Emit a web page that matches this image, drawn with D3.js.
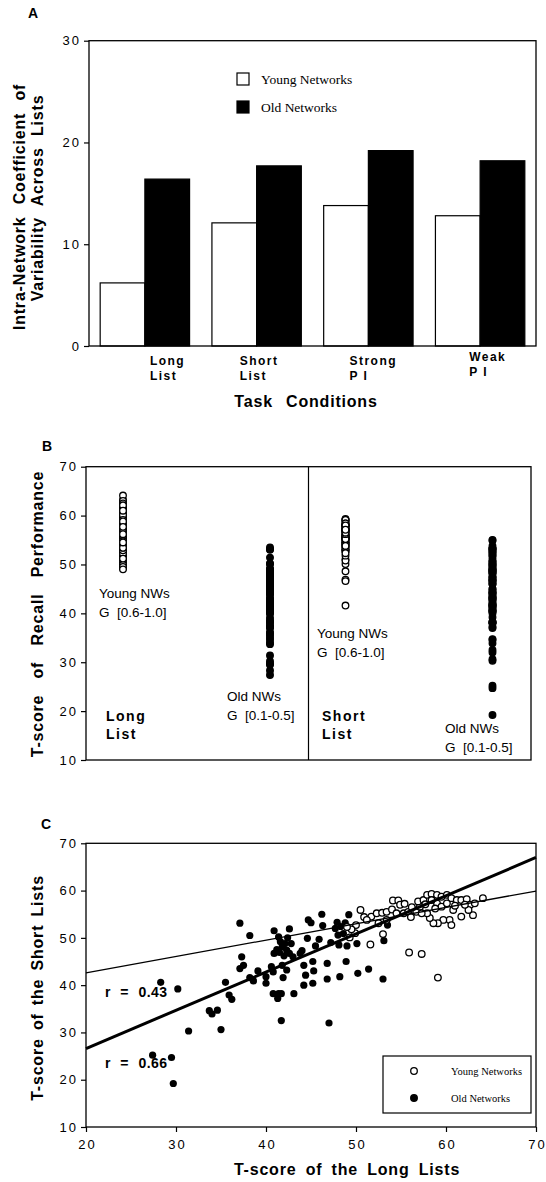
<!DOCTYPE html>
<html>
<head>
<meta charset="utf-8">
<script src="https://cdn.jsdelivr.net/npm/d3@7"></script>
<style>
body { margin: 0; background: #fff; }
svg { display: block; }
.tick text { font-family: "Liberation Sans", Arial, sans-serif; font-size: 13px; letter-spacing: 2px; fill: #000; }
.tick line, .domain { stroke: #000; stroke-width: 1.2; }
.title { font-family: "Liberation Sans", Arial, sans-serif; font-weight: bold; font-size: 16px; letter-spacing: 0.8px; }
.note { font-family: "Liberation Sans", Arial, sans-serif; font-size: 13.5px; }
.bold { font-family: "Liberation Sans", Arial, sans-serif; font-weight: bold; font-size: 14px; letter-spacing: 1.5px; }
.serif { font-family: "Liberation Serif", "Times New Roman", serif; }
</style>
</head>
<body>
<div id="chart"></div>
<script>

/* ==========================
   Data
========================== */

// panel A
const conditions = ["Long List", "Short List", "Strong PI", "Weak PI"];
const conditionLines = [["Long", "List"], ["Short", "List"], ["Strong", "P I"], ["Weak", "P I"]];
const youngCV = [6.2, 12.1, 13.8, 12.8];
const oldCV = [16.4, 17.7, 19.2, 18.2];
const cvTicks = [0, 10, 20, 30];

// panel B + C : [long list T-score, short list T-score]
const youngScores = [
[50.5,55.9],[50.9,54.4],[50.0,52.7],[49.9,51.0],[49.3,50.1],[51.6,48.6],[53.0,50.8],[52.5,53.1],
[51.7,54.5],[52.3,55.2],[52.9,55.3],[53.4,55.5],[54.0,56.0],[54.1,57.9],[54.7,57.9],[54.9,57.0],
[55.4,57.2],[55.3,55.2],[55.8,55.5],[56.1,54.4],[56.4,55.9],[56.7,55.5],[57.1,56.6],[56.9,57.7],
[57.5,58.0],[57.9,59.1],[58.4,59.3],[59.0,59.1],[59.5,58.7],[60.1,59.1],[60.6,58.4],[61.2,58.0],
[61.7,58.0],[62.3,58.2],[62.7,57.0],[63.2,57.3],[64.1,58.4],[63.0,54.8],[61.7,54.5],[60.8,55.9],
[60.4,53.8],[60.6,52.7],[59.7,53.8],[59.1,53.1],[58.6,53.1],[58.2,54.2],[57.9,55.2],[57.3,55.2],
[59.0,57.3],[59.5,56.6],[60.1,57.3],[58.4,58.0],[62.5,55.9],[62.1,57.0],[55.9,46.9],[57.3,46.6],
[59.1,41.6],[51.2,53.8],[53.4,53.8],[54.5,55.2],[49.5,51.8],[49.0,52.3],[58.8,56.2],[61.0,56.8],
[56.2,56.5],[57.7,57.1]
];

const oldScores = [
[28.3,40.6],[30.2,39.2],[27.4,25.2],[29.5,24.7],[29.7,19.2],[31.4,30.3],[35.0,30.6],[33.7,34.6],
[34.0,33.9],[34.6,34.7],[35.5,40.6],[35.9,37.9],[36.2,37.0],[37.1,53.1],[37.3,46.0],[37.5,44.2],
[37.1,43.5],[38.2,50.5],[38.2,41.6],[38.6,40.9],[39.1,43.0],[40.0,41.8],[40.0,40.4],[40.9,51.5],
[40.6,43.9],[40.8,42.8],[40.8,38.2],[41.4,50.2],[41.4,38.2],[41.3,37.2],[41.7,38.2],[41.7,32.5],
[41.8,44.2],[41.9,41.6],[42.3,43.2],[40.9,46.7],[41.5,46.9],[41.8,48.1],[42.1,48.8],[42.3,47.4],
[42.6,46.7],[42.8,48.8],[43.0,46.0],[42.6,51.9],[43.1,38.2],[43.8,46.7],[44.0,47.3],[44.2,44.2],
[44.4,42.1],[44.2,40.0],[44.6,49.9],[44.7,53.8],[45.0,53.2],[45.2,45.0],[45.3,43.0],[45.2,40.4],
[45.5,48.3],[45.9,49.7],[46.2,55.0],[46.3,52.6],[46.8,44.6],[46.8,41.3],[47.0,32.0],[47.2,49.0],
[47.7,52.0],[47.9,53.3],[48.0,50.6],[48.2,41.8],[48.1,48.5],[48.3,52.4],[48.8,53.2],[48.6,50.9],
[49.0,48.3],[48.9,45.0],[49.2,54.9],[50.1,48.8],[50.2,42.5],[51.4,43.4],[53.0,41.3],[53.1,49.4],
[53.5,52.7],[41.2,47.5],[42.0,46.2],[41.6,49.2],[42.4,50.0]
];

const tTicks = [10, 20, 30, 40, 50, 60, 70];
const longTicks = [20, 30, 40, 50, 60, 70];

// regression lines: short score at long = 20 and long = 70
const fitLabels = ["r = 0.43", "r = 0.66"];
const fitStart = [42.6, 26.6];
const fitEnd = [59.9, 67.0];

/* ==========================
   Svg
========================== */

const svg = d3.select("#chart")
.append("svg")
.attr("width", 546)
.attr("height", 1182);

svg.append("rect")
.attr("width", 546)
.attr("height", 1182)
.attr("fill", "#fff");

function box(x0, x1, y0, y1){
svg.append("rect")
.attr("x", x0).attr("y", y1)
.attr("width", x1 - x0).attr("height", y0 - y1)
.attr("fill", "none")
.attr("stroke", "#000")
.attr("stroke-width", 1.3);
}

function leftAxis(y, ticks, x0){
const g = svg.append("g")
.attr("transform", `translate(${x0},0)`)
.call(d3.axisLeft(y).tickValues(ticks).tickSize(5).tickSizeOuter(0).tickPadding(3));
g.select(".domain").remove();
}

function panelLetter(t, x, y){
svg.append("text")
.attr("x", x).attr("y", y)
.attr("font-family", "Liberation Sans, Arial, sans-serif")
.attr("font-weight", "bold")
.attr("font-size", 14)
.text(t);
}

function vTitle(t, x, y, ws){
svg.append("text")
.attr("class", "title")
.attr("text-anchor", "middle")
.style("word-spacing", (ws || 5) + "px")
.attr("transform", `translate(${x},${y}) rotate(-90)`)
.text(t);
}

/* ==========================
   Panel A
========================== */

function drawA(){

const x = d3.scaleBand()
.domain(conditions)
.range([89, 536])
.paddingInner(0.2)
.paddingOuter(0.1);

const sub = d3.scaleBand()
.domain(["young", "old"])
.range([0, x.bandwidth()]);

const y = d3.scaleLinear().domain([0, 30]).range([346, 40.7]);

const rows = conditions.map((c, i) => ({c, young: youngCV[i], old: oldCV[i]}));

const groups = svg.append("g")
.selectAll("g")
.data(rows)
.enter()
.append("g")
.attr("transform", d => `translate(${x(d.c)},0)`);

groups.selectAll("rect")
.data(d => [{k: "young", v: d.young}, {k: "old", v: d.old}])
.enter()
.append("rect")
.attr("x", d => sub(d.k))
.attr("y", d => y(d.v))
.attr("width", sub.bandwidth())
.attr("height", d => y(0) - y(d.v))
.attr("fill", d => d.k === "old" ? "#000" : "#fff")
.attr("stroke", "#000")
.attr("stroke-width", 1.2);

box(89, 536, 346, 40.7);
leftAxis(y, cvTicks, 89);

// category labels
const labelDx = [5, -17, -19, -11];
const labelDy = [0, 0, 0, -4];

conditions.forEach((c, i) => {
conditionLines[i].forEach((line, j) => {
svg.append("text")
.attr("class", "bold")
.style("font-size", "12px")
.attr("x", x(c) + x.bandwidth() / 2 + labelDx[i])
.attr("y", 365 + labelDy[i] + j * 15)
.text(line);
});
});

svg.append("text")
.attr("class", "title")
.attr("text-anchor", "middle")
.style("word-spacing", "8px")
.attr("x", 306).attr("y", 407)
.text("Task Conditions");

vTitle("Intra-Network Coefficient of", 25, 207, 7);
vTitle("Variability Across Lists", 43, 198, 6);

// legend
const legend = [{t: "Young Networks", f: "#fff"}, {t: "Old Networks", f: "#000"}];
legend.forEach((d, i) => {
svg.append("rect")
.attr("x", 237).attr("y", 73 + i * 28)
.attr("width", 12).attr("height", 12)
.attr("fill", d.f)
.attr("stroke", "#000")
.attr("stroke-width", 1.2);
svg.append("text")
.attr("class", "serif")
.attr("font-size", 13.5)
.attr("x", 261).attr("y", 83.5 + i * 28)
.text(d.t);
});

panelLetter("A", 28, 18);
}

/* ==========================
   Panel B
========================== */

function drawB(){

const y = d3.scaleLinear().domain([10, 70]).range([760, 466.7]);

const half = d3.scaleBand()
.domain(["Long", "Short"])
.range([86, 531]);

const col = d3.scalePoint()
.domain(["young", "old"])
.range([37, 184]);

const strips = [
{list: "Long", k: "young", vals: youngScores.map(d => d[0])},
{list: "Long", k: "old", vals: oldScores.map(d => d[0])},
{list: "Short", k: "young", vals: youngScores.map(d => d[1])},
{list: "Short", k: "old", vals: oldScores.map(d => d[1])}
];

strips.forEach(s => {
svg.append("g")
.selectAll("circle")
.data(s.vals)
.enter()
.append("circle")
.attr("cx", half(s.list) + col(s.k))
.attr("cy", d => y(d))
.attr("r", 3.3)
.attr("fill", s.k === "old" ? "#000" : "#fff")
.attr("stroke", "#000")
.attr("stroke-width", 1.3);
});

box(86, 531, 760, 466.7);

svg.append("line")
.attr("x1", half("Short")).attr("x2", half("Short"))
.attr("y1", 466.7).attr("y2", 760)
.attr("stroke", "#000")
.attr("stroke-width", 1.2);

leftAxis(y, tTicks, 86);

// annotations
const notes = [
{t: ["Young NWs", "G  [0.6-1.0]"], x: 99, y: 598},
{t: ["Old NWs", "G  [0.1-0.5]"], x: 227, y: 701},
{t: ["Young NWs", "G  [0.6-1.0]"], x: 317, y: 638},
{t: ["Old NWs", "G  [0.1-0.5]"], x: 445, y: 733}
];

notes.forEach(n => {
n.t.forEach((line, j) => {
svg.append("text")
.attr("class", "note")
.attr("x", n.x).attr("y", n.y + j * 19)
.style("white-space", "pre")
.text(line);
});
});

[["Long", "List", 106], ["Short", "List", 322]].forEach(d => {
svg.append("text").attr("class", "bold").attr("x", d[2]).attr("y", 721).text(d[0]);
svg.append("text").attr("class", "bold").attr("x", d[2]).attr("y", 739).text(d[1]);
});

vTitle("T-score of Recall Performance", 43, 614, 11);

panelLetter("B", 42, 451);
}

/* ==========================
   Panel C
========================== */

function drawC(){

const x = d3.scaleLinear().domain([20, 70]).range([86, 536]);
const y = d3.scaleLinear().domain([10, 70]).range([1127, 843.3]);

svg.append("g")
.selectAll("circle")
.data(oldScores)
.enter()
.append("circle")
.attr("cx", d => x(d[0]))
.attr("cy", d => y(d[1]))
.attr("r", 3.6)
.attr("fill", "#000");

svg.append("g")
.selectAll("circle")
.data(youngScores)
.enter()
.append("circle")
.attr("cx", d => x(d[0]))
.attr("cy", d => y(d[1]))
.attr("r", 3.3)
.attr("fill", "#fff")
.attr("stroke", "#000")
.attr("stroke-width", 1.3);

const widths = [1.3, 3];
fitLabels.forEach((lab, i) => {
svg.append("line")
.attr("x1", x(20)).attr("y1", y(fitStart[i]))
.attr("x2", x(70)).attr("y2", y(fitEnd[i]))
.attr("stroke", "#000")
.attr("stroke-width", widths[i]);
});

box(86, 536, 1127, 843.3);

leftAxis(y, tTicks, 86);

const xa = svg.append("g")
.attr("transform", "translate(0,1127)")
.call(d3.axisBottom(x).tickValues(longTicks).tickSize(5).tickSizeOuter(0).tickPadding(8));
xa.select(".domain").remove();
xa.selectAll("text").attr("dx", "1px");

[997, 1068].forEach((yy, i) => {
svg.append("text")
.attr("class", "bold")
.style("letter-spacing", "0.5px")
.style("word-spacing", "5px")
.attr("x", 105).attr("y", yy)
.text(fitLabels[i]);
});

svg.append("text")
.attr("class", "title")
.attr("text-anchor", "middle")
.style("word-spacing", "4px")
.attr("x", 347).attr("y", 1175)
.text("T-score of the Long Lists");

vTitle("T-score of the Short Lists", 43, 988, 3);

// legend
svg.append("rect")
.attr("x", 383).attr("y", 1056)
.attr("width", 148).attr("height", 57)
.attr("fill", "#fff")
.attr("stroke", "#000")
.attr("stroke-width", 1.2);

const legend = [{t: "Young Networks", f: "#fff"}, {t: "Old Networks", f: "#000"}];
legend.forEach((d, i) => {
svg.append("circle")
.attr("cx", 414).attr("cy", 1071 + i * 27)
.attr("r", 3.3)
.attr("fill", d.f)
.attr("stroke", "#000")
.attr("stroke-width", 1.3);
svg.append("text")
.attr("class", "serif")
.attr("font-size", 10.5)
.attr("x", 451).attr("y", 1075 + i * 27)
.text(d.t);
});

panelLetter("C", 41, 829);
}

drawA();
drawB();
drawC();

</script>
</body>
</html>
